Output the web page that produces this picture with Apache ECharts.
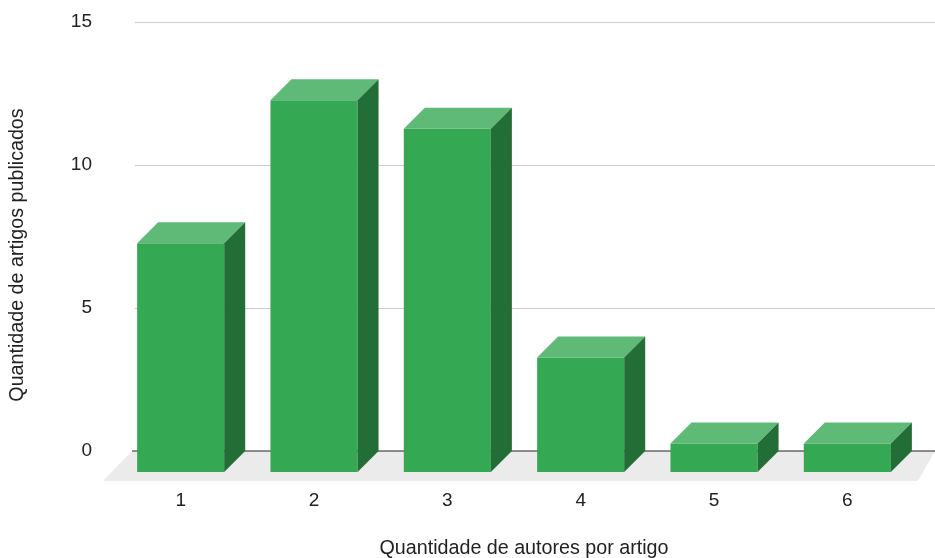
<!DOCTYPE html>
<html>
<head>
<meta charset="utf-8">
<script src="https://cdn.jsdelivr.net/npm/echarts@6/dist/echarts.min.js"></script>
<style>
html,body{margin:0;padding:0;background:#fff;}
#chart{width:935px;height:558px;}
</style>
</head>
<body>
<div id="chart"></div>
<script>
const categories = ['1', '2', '3', '4', '5', '6'];
const values = [8, 13, 12, 4, 1, 1];
const yMin = 0, yMax = 15, yStep = 5;
const xTitle = 'Quantidade de autores por artigo';
const yTitle = 'Quantidade de artigos publicados';

const FONT = 'Arial, "Liberation Sans", sans-serif';
const DEPTH = 21;

function renderBar(params, api) {
  const i = api.value(0);
  const v = api.value(1);
  const top = api.coord([i, v]);
  const base = api.coord([i, 0]);
  const band = api.size([1, 0])[0];
  const w = band * 0.653;
  const d = DEPTH;
  const fx0 = top[0] - d - w / 2, fx1 = fx0 + w;
  const fyT = top[1] + d, fyB = base[1] + d;
  return {
    type: 'group',
    children: [
      { type: 'rect', shape: { x: fx0, y: fyT, width: w, height: fyB - fyT }, style: { fill: '#34a853' } },
      { type: 'polygon', shape: { points: [[fx0, fyT], [fx1, fyT], [fx1 + d, fyT - d], [fx0 + d, fyT - d]] }, style: { fill: '#5fb977' } },
      { type: 'polygon', shape: { points: [[fx1, fyT], [fx1 + d, fyT - d], [fx1 + d, base[1]], [fx1, fyB]] }, style: { fill: '#236e36' } }
    ]
  };
}

function renderFloor(params, api) {
  const cs = params.coordSys;
  const y0 = api.coord([0, 0])[1];
  const xl = cs.x - 3, xr = cs.x + cs.width;
  return {
    type: 'group',
    children: [
      { type: 'polygon', shape: { points: [[xl, y0], [xr, y0], [xr - 17, y0 + 30], [xl - 29, y0 + 30]] }, style: { fill: '#ebebeb' } },
      { type: 'line', shape: { x1: xl, y1: y0, x2: xr, y2: y0 }, style: { stroke: '#222', lineWidth: 1.2 } }
    ]
  };
}

const chart = echarts.init(document.getElementById('chart'), null, { renderer: 'canvas' });
chart.setOption({
  animation: false,
  backgroundColor: '#fff',
  grid: { left: 135, right: 0, top: 22, bottom: 107, containLabel: false },
  xAxis: {
    type: 'category',
    data: categories,
    axisLine: { show: false },
    axisTick: { show: false },
    splitLine: { show: false },
    axisLabel: { margin: 40, fontSize: 19, color: '#222', fontFamily: FONT, padding: [0, 2 * DEPTH, 0, 0] }
  },
  yAxis: {
    type: 'value',
    min: yMin, max: yMax, interval: yStep,
    axisLine: { show: false },
    axisTick: { show: false },
    splitLine: { lineStyle: { color: '#cccccc', width: 1 } },
    axisLabel: { margin: 43, fontSize: 19, color: '#222', fontFamily: FONT }
  },
  graphic: [
    { type: 'text', x: 524, y: 549, style: { text: xTitle, fontSize: 19.7, fontFamily: FONT, fill: '#222', textAlign: 'center', textVerticalAlign: 'middle' } },
    { type: 'text', x: 18, y: 255, rotation: Math.PI / 2, style: { text: yTitle, fontSize: 19.7, fontFamily: FONT, fill: '#222', textAlign: 'center', textVerticalAlign: 'middle' } }
  ],
  series: [
    { type: 'custom', z: 1, renderItem: renderFloor, data: [[0, 0]], encode: { x: 0, y: 1 }, silent: true },
    { type: 'custom', z: 2, renderItem: renderBar, data: values.map((v, i) => [i, v]), encode: { x: 0, y: 1 } }
  ]
});
</script>
</body>
</html>
